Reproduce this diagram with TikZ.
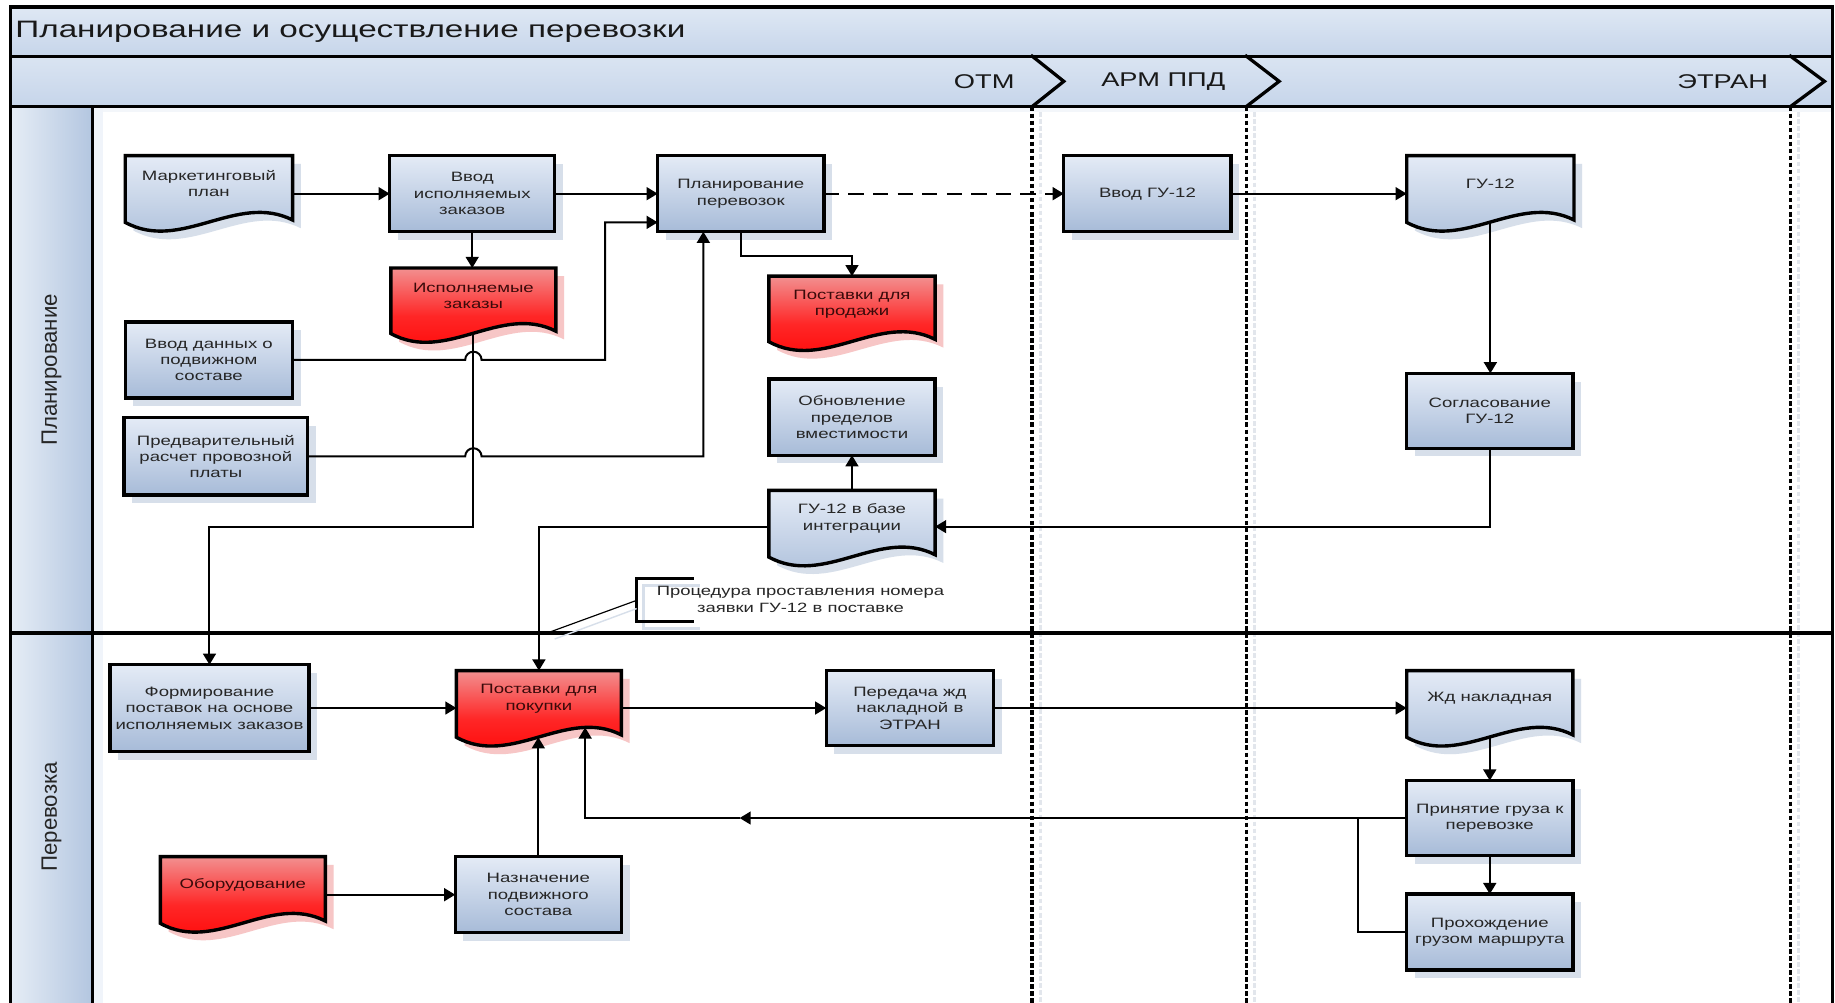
\documentclass[tikz,border=0pt]{standalone}
\usepackage{fontspec}
\setmainfont{Liberation Sans}[FakeStretch=1.37]
\newfontfamily\lanefont{Liberation Sans}
\newfontfamily\titlefont{Liberation Sans}[FakeStretch=1.4]
\usetikzlibrary{arrows.meta,calc}
\definecolor{bluetop}{HTML}{E4EBF6}
\definecolor{bluebot}{HTML}{A7BBD8}
\definecolor{redtop}{HTML}{F29090}
\definecolor{redbot}{HTML}{FF0000}
\definecolor{shblue}{HTML}{D7DFEA}
\definecolor{shred}{HTML}{F7C6C6}
\definecolor{boxtxt}{HTML}{262626}
\definecolor{redtxt}{HTML}{3A0A0A}
\definecolor{bartop}{HTML}{DFE8F4}
\definecolor{barbot}{HTML}{C6D5EA}
\definecolor{lanel}{HTML}{E6EDF6}
\definecolor{laner}{HTML}{B3C6E0}
\definecolor{sepshadow}{HTML}{E2E6EC}
\newcommand{\bxfont}{\fontsize{11.6}{14}\selectfont}
\newcommand{\ttlfont}{\titlefont\fontsize{20.3}{24}\selectfont}
\newcommand{\phfont}{\fontsize{17}{20}\selectfont}
\newcommand{\lnfont}{\lanefont\fontsize{19}{22}\selectfont}
\newcommand{\anfont}{\fontsize{11.5}{14.2}\selectfont}
\tikzset{
  conn/.style={line width=1.7pt, -{Triangle[length=9.5pt,width=11pt]}},
  plainline/.style={line width=1.7pt},
  proc/.style={draw=black, line width=2.9pt, top color=bluetop, bottom color=bluebot,
    inner sep=1pt, outer sep=0pt, align=center, font=\bxfont, text=boxtxt},
  docblue/.style={top color=bluetop, bottom color=bluebot},
  docred/.style={top color=redtop, bottom color=redbot, middle color=red!85!white},
  docbluesh/.style={fill=shblue},
  docredsh/.style={fill=shred},
  doctxtblue/.style={align=center, font=\bxfont, text=boxtxt, inner sep=0pt},
  doctxtred/.style={align=center, font=\bxfont, text=redtxt, inner sep=0pt},
  anchorbox/.style={inner sep=0pt, outer sep=0pt, anchor=north west},
  frameline/.style={line width=2.8pt, line cap=rect},
  sepline/.style={line width=3pt, dash pattern=on 4pt off 2pt},
  sepsh/.style={line width=2.2pt, sepshadow, dash pattern=on 4pt off 2pt},
}
% process box: name, x1, y1, width, height, text
\newcommand{\procnode}[6]{%
  \fill[shblue] ({#2+7},{#3+7}) rectangle ++(#4,#5);
  \node[proc, minimum width=#4, minimum height=#5, anchor=north west] (#1) at (#2,#3) {#6};
}
% document shape: name, x1, top, x2, bottom-left y, colour (blue/red), text
\newcommand{\docnode}[7]{%
  \pgfmathsetmacro{\dxa}{#2+(#4-#2)/3}%
  \pgfmathsetmacro{\dxb}{#2+2*(#4-#2)/3}%
  \pgfmathsetmacro{\dyd}{#5+26}%
  \pgfmathsetmacro{\dyu}{#5-26}%
  \pgfmathsetmacro{\dye}{#5-2}%
  \pgfmathsetmacro{\dxm}{(#2+#4)/2}%
  \pgfmathsetmacro{\dyt}{#3+24}%
  \fill[doc#6sh, shift={(7,7)}] (#2,#3) -- (#4,#3) -- (#4,\dye) .. controls (\dxb,\dyu) and (\dxa,\dyd) .. (#2,#5) -- cycle;
  \path[doc#6, draw=black, line width=2.9pt, line join=miter] (#2,#3) -- (#4,#3) -- (#4,\dye) .. controls (\dxb,\dyu) and (\dxa,\dyd) .. (#2,#5) -- cycle;
  \node[anchorbox, minimum width={#4-#2}, minimum height={#5-#3}] (#1) at (#2,#3) {};
  \node[doctxt#6] (#1t) at (\dxm,\dyt) {#7};
}
\begin{document}
\begin{tikzpicture}[x=1pt,y=-1pt]
\useasboundingbox (0,0) rectangle (1568,857);
\fill[white] (0,0) rectangle (1568,857);
% bands
\shade[top color=bartop, bottom color=barbot] (9,6) rectangle (1566,48);
\shade[top color=bartop!80!barbot, bottom color=barbot] (9,48) rectangle (1566,91);
\shade[left color=lanel, right color=laner] (9,91) rectangle (79,857);
\fill[lanel!60!white] (79,91) rectangle (88,857);
\fill[lanel!50!white] (88,91) rectangle (1566,96);
% phase separators
\foreach \px in {882,1065,1530}{
  \draw[sepsh] (\px+7,96) -- (\px+7,857);
  \draw[sepline] (\px,91) -- (\px,857);
}
\draw[frameline, line join=miter] (882,48) -- (909,69.5) -- (882,91);
\draw[frameline, line join=miter] (1065,48) -- (1093,69.5) -- (1065,91);
\draw[frameline, line join=miter] (1530,48) -- (1559,69.5) -- (1530,91);
% frame
\draw[frameline] (9,857) -- (9,6) -- (1566,6) -- (1566,857);
\draw[frameline] (9,48) -- (1566,48);
\draw[frameline] (9,91) -- (1566,91);
\draw[frameline] (79,91) -- (79,857);
\draw[frameline] (9,541) -- (1566,541);
% titles
\node[anchor=west, font=\ttlfont, text=black!90, inner sep=0pt] (title) at (13,27) {Планирование и осуществление перевозки};
\node[font=\phfont, text=black!90, inner sep=0pt] (ph1) at (841,70) {ОТМ};
\node[font=\phfont, text=black!90, inner sep=0pt] (ph2) at (994,70) {АРМ ППД};
\node[font=\phfont, text=black!90, inner sep=0pt] (ph3) at (1472,70) {ЭТРАН};
\node[font=\lnfont, text=black!85, rotate=90, inner sep=0pt] (lane1) at (44,316) {Планирование};
\node[font=\lnfont, text=black!85, rotate=90, inner sep=0pt] (lane2) at (44,698) {Перевозка};
% ---- planning lane
\docnode{mplan}{107}{133}{250}{190}{blue}{Маркетинговый\\план}
\procnode{vvodisp}{333}{133}{141}{65}{Ввод\\исполняемых\\заказов}
\procnode{plan}{562}{133}{142}{65}{Планирование\\перевозок}
\docnode{isp}{334}{229}{475}{285}{red}{Исполняемые\\заказы}
\procnode{vvoddan}{107}{275}{143}{65}{Ввод данных о\\подвижном\\составе}
\procnode{predv}{106}{357}{157}{66}{Предварительный\\расчет провозной\\платы}
\docnode{postprod}{657}{236}{799}{292}{red}{Поставки для\\продажи}
\procnode{obnov}{657}{324}{142}{65}{Обновление\\пределов\\вместимости}
\docnode{gubase}{657}{419}{799}{476}{blue}{ГУ-12 в базе\\интеграции}
\procnode{vvodgu}{909}{133}{143}{65}{Ввод ГУ-12}
\docnode{gu12}{1202}{133}{1345}{190}{blue}{ГУ-12}
\procnode{soglas}{1202}{319}{142}{64}{Согласование\\ГУ-12}
% ---- transport lane
\procnode{form}{94}{568}{170}{74}{Формирование\\поставок на основе\\исполняемых заказов}
\docnode{postpok}{390}{573}{531}{630}{red}{Поставки для\\покупки}
\procnode{peredacha}{706}{573}{143}{64}{Передача жд\\накладной в\\ЭТРАН}
\docnode{zhd}{1202}{573}{1344}{630}{blue}{Жд накладная}
\procnode{prinyat}{1202}{667}{142}{64}{Принятие груза к\\перевозке}
\procnode{prohozh}{1202}{764}{142}{65}{Прохождение\\грузом маршрута}
\docnode{obor}{137}{732}{278}{789}{red}{Оборудование}
\procnode{naznach}{389}{732}{142}{65}{Назначение\\подвижного\\состава}
% annotation
\draw[line width=2.5pt, shblue] (598,500) -- (550,500) -- (550,537) -- (598,537);
\draw[line width=2.7pt, line cap=rect] (592,494) -- (544,494) -- (544,531) -- (592,531);
\node[font=\anfont, text=boxtxt, align=center, inner sep=0pt] (note) at (684,512) {Процедура проставления номера\\заявки ГУ-12 в поставке};
\coordinate (br) at (544,513);
\coordinate (brend) at (470,540);
\draw[line width=1.2pt, shblue] (544,520) -- (474,546);
\draw[line width=1pt] (br) -- (brend);
% helper coordinates
\coordinate (k1) at (517,307.5);
\coordinate (k2) at ($(plan.south west)+(0,-8)$);
\coordinate (k3) at (601,390);
\coordinate (k4) at (300,450);
\coordinate (k5) at (680,219);
\coordinate (k6) at (799,450);
\coordinate (k7) at (657,450);
\coordinate (k8) at (632,699);
\coordinate (k9) at (500,621.6);
\coordinate (k10) at (1160,699);
% connectors
\draw[conn] (mplan.east |- vvodisp.west) -- (vvodisp.west);
\draw[conn] (vvodisp.east) -- (plan.west);
\draw[conn] (vvodisp.south) -- (vvodisp.south |- isp.north);
\draw[conn] (vvoddan.east) -- ($(isp.south |- vvoddan.east)+(-7,0)$) arc[start angle=180, end angle=360, radius=7] -- (k1) |- (k2);
\draw[conn] (predv.east) -- ($(isp.south |- predv.east)+(-7,0)$) arc[start angle=180, end angle=360, radius=7] -- (k3) -- (k3 |- plan.south);
\draw[conn] (isp.south) |- (k4) -| (form.north);
\draw[conn] (plan.south) |- (k5) -| (postprod.north);
\draw[conn, dash pattern=on 13pt off 8pt] (plan.east) -- (vvodgu.west);
\draw[conn] (vvodgu.east) -- (vvodgu.east -| gu12.west);
\draw[conn] (gu12.south) -- (gu12.south |- soglas.north);
\draw[conn] (soglas.south) |- (k6);
\draw[conn] (gubase.north) -- (gubase.north |- obnov.south);
\draw[conn] (k7) -| (postpok.north);
\draw[conn] (form.east) -- (form.east -| postpok.west);
\draw[conn] (postpok.east |- peredacha.west) -- (peredacha.west);
\draw[conn] (peredacha.east) -- (peredacha.east -| zhd.west);
\draw[conn] (zhd.south) -- (zhd.south |- prinyat.north);
\draw[conn] (prinyat.south) -- (prohozh.north);
\draw[conn] (prinyat.west) -- (k8);
\draw[conn] (k8) -| (k9);
\draw[plainline] (prohozh.west) -| (k10);
\draw[conn] (obor.east |- naznach.west) -- (naznach.west);
\draw[conn] (naznach.north) -- (naznach.north |- postpok.south);
\end{tikzpicture}
\end{document}
